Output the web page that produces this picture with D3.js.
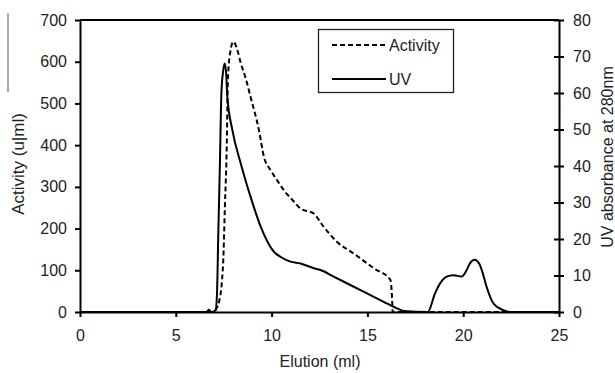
<!DOCTYPE html>
<html>
<head>
<meta charset="utf-8">
<script src="https://cdn.jsdelivr.net/npm/d3@7"></script>
<style>
	body { margin: 0; background: #fff; }
	svg { display: block; font-family: "Liberation Sans", Arial, sans-serif; }
	.axis text { font-size: 16px; fill: #222; }
	.axis path, .axis line { stroke: #000; stroke-width: 2; }
</style>
</head>
<body>
<svg width="615" height="373"></svg>
<script>
// elution volume (ml) and activity (u/ml), left axis
const activityX = [0, 6.95, 7.05, 7.26, 7.47, 7.56, 7.66, 7.72, 7.85, 8.0, 8.2, 8.39, 8.65, 8.9, 9.34, 9.6, 9.95, 10.3, 10.64, 11.1, 11.51, 12.2, 12.72, 13.42, 14.29, 15.33, 16.2, 16.28, 16.32, 25];
const activityY = [0, 0, 4, 25, 117, 250, 400, 560, 625, 648, 630, 597, 560, 516, 436, 372, 340, 315, 292, 268, 248, 236, 204, 168, 140, 105, 77, 40, 0, 0];

// elution volume (ml) and UV absorbance at 280nm, right axis
const uvX = [0, 6.6, 6.73, 6.85, 7.08, 7.15, 7.22, 7.3, 7.38, 7.47, 7.55, 7.62, 7.69, 7.95, 8.39, 8.9, 9.43, 10.12, 10.5, 10.99, 11.51, 12.2, 12.55, 13.24, 14.11, 14.98, 15.85, 16.54, 16.89, 18.15, 18.53, 18.8, 19.14, 19.49, 19.92, 20.18, 20.36, 20.6, 20.84, 21.0, 21.22, 21.57, 22.1, 22.4, 25];
const uvY = [0, 0, 0.6, 0, 0.5, 5, 22, 40, 60, 66, 68.1, 66, 59, 49.9, 40.7, 31.6, 23.4, 16.5, 15, 13.8, 13.3, 12, 11.5, 9.7, 7.4, 5.1, 2.8, 1.0, 0.3, 0, 5.1, 7.9, 9.7, 10.1, 9.7, 11.5, 13.4, 14.3, 13.2, 11.0, 6.9, 2.4, 0.5, 0, 0];

const xTicks = [0, 5, 10, 15, 20, 25];
const leftTicks = [0, 100, 200, 300, 400, 500, 600, 700];
const rightTicks = [0, 10, 20, 30, 40, 50, 60, 70, 80];

const svg = d3.select("svg");
const plotLeft = 80, plotRight = 559, plotTop = 20, plotBottom = 312;

const x = d3.scaleLinear().domain([0, 25]).range([plotLeft, plotRight]);
const yL = d3.scaleLinear().domain([0, 700]).range([plotBottom, plotTop]);
const yR = d3.scaleLinear().domain([0, 80]).range([plotBottom, plotTop]);

// stray rule at far left of the scan
svg.append("line")
	.attr("x1", 8).attr("x2", 8).attr("y1", 13).attr("y2", 92)
	.attr("stroke", "#555").attr("stroke-width", 1);

// top frame line
svg.append("line")
	.attr("x1", plotLeft).attr("x2", plotRight).attr("y1", plotTop).attr("y2", plotTop)
	.attr("stroke", "#000").attr("stroke-width", 2);

svg.append("g")
	.attr("class", "axis")
	.attr("transform", `translate(0,${plotBottom})`)
	.call(d3.axisBottom(x).tickValues(xTicks).tickSize(5).tickPadding(13).tickSizeOuter(0));

svg.append("g")
	.attr("class", "axis")
	.attr("transform", `translate(${plotLeft},0)`)
	.call(d3.axisLeft(yL).tickValues(leftTicks).tickSize(5).tickPadding(8).tickSizeOuter(0));

const rAxis = svg.append("g")
	.attr("class", "axis")
	.attr("transform", `translate(${plotRight},0)`)
	.call(d3.axisRight(yR).tickValues(rightTicks).tickSize(5).tickPadding(9).tickSizeOuter(0));
rAxis.selectAll(".tick line").attr("x1", -5);

// curves
const activityLine = d3.line()
	.x((d, i) => x(activityX[i]))
	.y(d => yL(d))
	.curve(d3.curveMonotoneX);

const uvLine = d3.line()
	.x((d, i) => x(uvX[i]))
	.y(d => yR(d))
	.curve(d3.curveMonotoneX);

svg.append("path")
	.attr("d", uvLine(uvY))
	.attr("fill", "none")
	.attr("stroke", "#000")
	.attr("stroke-width", 2);

svg.append("path")
	.attr("d", activityLine(activityY))
	.attr("fill", "none")
	.attr("stroke", "#000")
	.attr("stroke-width", 2)
	.attr("stroke-dasharray", "5,3");

// legend
const legend = svg.append("g");
legend.append("rect")
	.attr("x", 318.5).attr("y", 29.5).attr("width", 135).attr("height", 63)
	.attr("fill", "#fff").attr("stroke", "#222").attr("stroke-width", 1.3);
legend.append("line")
	.attr("x1", 332).attr("x2", 386).attr("y1", 45).attr("y2", 45)
	.attr("stroke", "#000").attr("stroke-width", 2).attr("stroke-dasharray", "5,3");
legend.append("text")
	.attr("x", 389).attr("y", 51).attr("font-size", 16).attr("fill", "#222")
	.text("Activity");
legend.append("line")
	.attr("x1", 332).attr("x2", 386).attr("y1", 79).attr("y2", 79)
	.attr("stroke", "#000").attr("stroke-width", 2);
legend.append("text")
	.attr("x", 389).attr("y", 85).attr("font-size", 16).attr("fill", "#222")
	.text("UV");

// axis titles
svg.append("text")
	.attr("x", 320).attr("y", 367)
	.attr("text-anchor", "middle").attr("font-size", 16).attr("fill", "#222")
	.text("Elution (ml)");

svg.append("text")
	.attr("transform", "translate(24,164) rotate(-90)")
	.attr("text-anchor", "middle").attr("font-size", 17).attr("fill", "#222")
	.text("Activity (u|ml)");

svg.append("text")
	.attr("transform", "translate(613,157) rotate(-90)")
	.attr("text-anchor", "middle").attr("font-size", 16).attr("fill", "#222")
	.text("UV absorbance at 280nm");
</script>
</body>
</html>
